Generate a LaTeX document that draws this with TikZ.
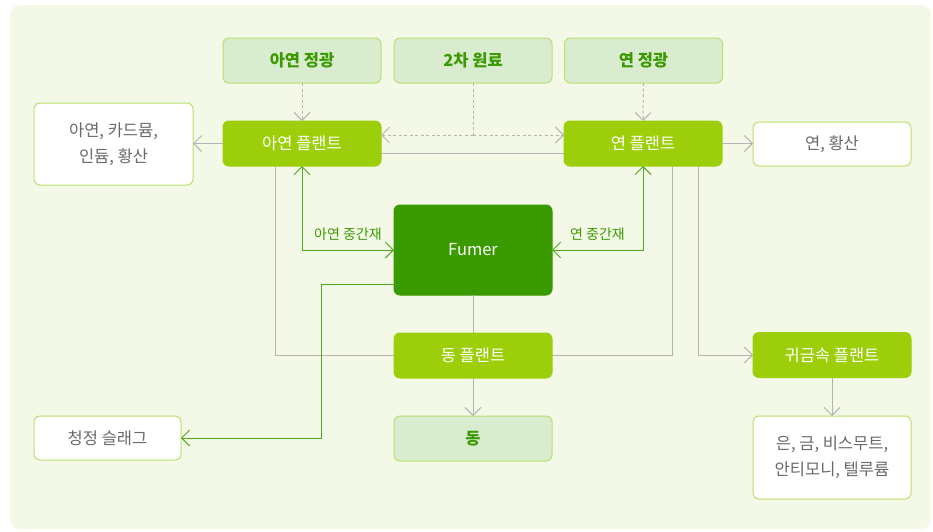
\documentclass[tikz,border=0pt]{standalone}
\usepackage{fontspec}
\setmainfont{Noto Sans CJK KR}
\usetikzlibrary{arrows.meta}
\definecolor{bgpanel}{HTML}{F4F9E7}
\definecolor{lightfill}{HTML}{D9ECD0}
\definecolor{lightborder}{HTML}{B9DF6E}
\definecolor{plantfill}{HTML}{9CCF0A}
\definecolor{fumerfill}{HTML}{3A9B00}
\definecolor{greenline}{HTML}{4FA81E}
\definecolor{grayline}{HTML}{B4B4B4}
\definecolor{graytext}{HTML}{6A6A6A}
\definecolor{greentext}{HTML}{3A9A00}
\tikzset{
  box/.style={rectangle, rounded corners=6pt, minimum width=158pt, minimum height=45pt,
    inner sep=2pt, outer sep=0pt, line width=1pt, align=center,
    font=\fontsize{16.5}{26}\selectfont},
  srcbox/.style={box, fill=lightfill, draw=lightborder, text=greentext, font=\fontsize{16.5}{26}\selectfont\bfseries},
  plantbox/.style={box, fill=plantfill, draw=plantfill, text=white},
  outbox/.style={box, fill=white, draw=lightborder, text=graytext},
  fumerbox/.style={box, fill=fumerfill, draw=fumerfill, text=white, minimum height=90pt},
  tip/.style={-{Straight Barb[length=8pt,width=16pt]}},
  tips/.style={{Straight Barb[length=8pt,width=16pt]}-{Straight Barb[length=8pt,width=16pt]}},
  gline/.style={draw=grayline, line width=1pt},
  dline/.style={draw=grayline, line width=1pt, dash pattern=on 3pt off 2.5pt},
  vline/.style={draw=greenline, line width=1pt},
  lbl/.style={text=greentext, font=\fontsize{14}{16}\selectfont, inner sep=0pt}
}
\begin{document}
\begin{tikzpicture}[x=1pt,y=-1pt]
\useasboundingbox (0,0) rectangle (933,531);
\fill[bgpanel, rounded corners=10pt] (10,5) rectangle (931,529);

% source boxes
\node[srcbox] (zc) at (302,60.5) {아연 정광};
\node[srcbox] (sec) at (473,60.5) {2차 원료};
\node[srcbox] (pc) at (643.5,60.5) {연 정광};

% plants
\node[plantbox] (zp) at (302,143.5) {아연 플랜트};
\node[plantbox] (pp) at (643,143.5) {연 플랜트};
\node[fumerbox] (fu) at (473,250) {Fumer};
\node[plantbox] (cp) at (473,355.5) {동 플랜트};
\node[plantbox] (pm) at (832,355) {귀금속 플랜트};

% outputs
\node[outbox, minimum width=159pt, minimum height=82pt] (zo) at (113.5,144) {아연, 카드뮴,\\인듐, 황산};
\node[outbox, minimum height=44pt] (po) at (832,144) {연, 황산};
\node[outbox, minimum width=147pt, minimum height=44pt] (slag) at (107.5,438) {청정 슬래그};
\node[srcbox] (cu) at (473,438.5) {동};
\node[outbox, minimum height=83pt] (pmo) at (832,457.5) {은, 금, 비스무트,\\안티모니, 텔루륨};

% dashed feeds
\draw[dline, tip] (zc) -- (zp);
\draw[dline, tip] (pc.south) -- (pp.north);
\coordinate (j) at (473,135);
\draw[dline] (sec.south) -- (j);
\draw[dline, tip] (j) -- (zp.east |- j);
\draw[dline, tip] (j) -- (pp.west |- j);

% gray solid connectors
\draw[gline, tip] (zp.west) -- (zo.east |- zp.west);
\draw[gline] (zp.east |- 0,153) -- (pp.west |- 0,153);
\draw[gline, tip] (pp.east) -- (po.west |- pp.east);
\draw[gline] ([xshift=-27pt]zp.south) |- (cp.west);
\draw[gline] (fu.south) -- (cp.north);
\draw[gline] (cp.east) -| ([xshift=29pt]pp.south);
\draw[gline, tip] ([xshift=55pt]pp.south) |- (pm.west);
\draw[gline, tip] (cp.south) -- (cu.north);
\draw[gline, tip] (pm.south) -- (pmo.north);

% green connectors
\draw[vline, tips] (zp.south) |- (fu.west)
  node[lbl, pos=0.75, anchor=south, yshift=9pt] (lz) {아연 중간재};
\draw[vline, tips] (pp.south) |- (fu.east)
  node[lbl, pos=0.75, anchor=south, yshift=9pt] (lp) {연 중간재};
\coordinate (g1) at (321,284);
\draw[vline, tip] (fu.west |- g1) -- (g1) |- (slag.east);
\end{tikzpicture}
\end{document}
